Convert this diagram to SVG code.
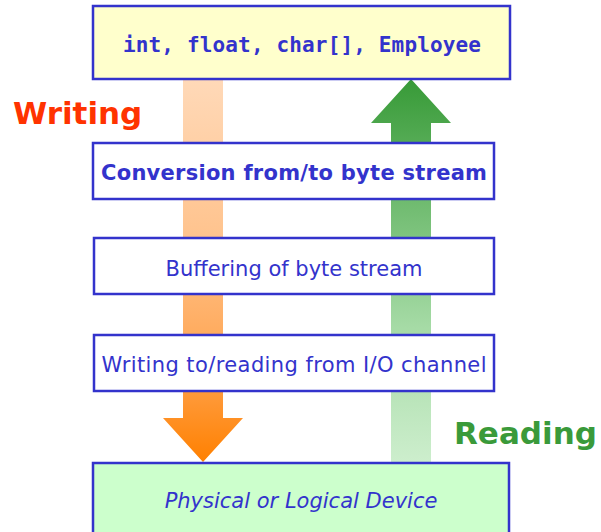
<svg xmlns="http://www.w3.org/2000/svg" width="601" height="532" viewBox="0 0 601 532">
<style>
.box{stroke:#3333cc;stroke-width:2.5}
.t{fill:#3333cc;font-family:"DejaVu Sans",Verdana,sans-serif;font-size:21px;text-anchor:middle}
.lbl{font-family:"DejaVu Sans",Verdana,sans-serif;font-size:31px;font-weight:bold}
</style>
<defs>
<linearGradient id="og" gradientUnits="userSpaceOnUse" x1="0" y1="79" x2="0" y2="462">
<stop offset="0" stop-color="#ffd9b8"/>
<stop offset="0.4" stop-color="#ffc48f"/>
<stop offset="0.75" stop-color="#ffa450"/>
<stop offset="1" stop-color="#ff8000"/>
</linearGradient>
<linearGradient id="gg" gradientUnits="userSpaceOnUse" x1="0" y1="79" x2="0" y2="463">
<stop offset="0" stop-color="#379a37"/>
<stop offset="0.3" stop-color="#6cb96c"/>
<stop offset="0.65" stop-color="#a6dba6"/>
<stop offset="1" stop-color="#cdeecd"/>
</linearGradient>
</defs>
<rect width="601" height="532" fill="#ffffff"/>
<g id="connectors">
<path id="write-arrow" d="M183,79 L223,79 L223,418 L243,418 L203,462 L163,418 L183,418 Z" fill="url(#og)"/>
<path id="read-arrow" d="M411,79 L451,123 L431,123 L431,463 L391,463 L391,123 L371,123 Z" fill="url(#gg)"/>
</g>
<g id="types">
<rect class="box" x="93" y="6" width="417" height="73" fill="#ffffcc"/>
<text x="302" y="52" style="fill:#3333cc;font-family:'DejaVu Sans Mono','Liberation Mono',monospace;font-size:21px;font-weight:bold;text-anchor:middle" textLength="358">int, float, char[], Employee</text>
</g>
<g id="conversion">
<rect class="box" x="93" y="143" width="401" height="56" fill="#ffffff"/>
<text class="t" x="294" y="180" style="font-weight:bold" textLength="386">Conversion from/to byte stream</text>
</g>
<g id="buffering">
<rect class="box" x="94" y="238" width="400" height="56" fill="#ffffff"/>
<text class="t" x="294" y="276">Buffering of byte stream</text>
</g>
<g id="io">
<rect class="box" x="94" y="335" width="400" height="56" fill="#ffffff"/>
<text class="t" x="294" y="372" textLength="385">Writing to/reading from I/O channel</text>
</g>
<g id="device">
<rect class="box" x="93" y="463" width="416" height="75" fill="#ccffcc"/>
<text class="t" x="301" y="508" style="font-style:italic">Physical or Logical Device</text>
</g>
<g id="labels">
<text class="lbl" x="13" y="124" fill="#ff3300">Writing</text>
<text class="lbl" x="454" y="444" fill="#3a9a3a">Reading</text>
</g>
</svg>
